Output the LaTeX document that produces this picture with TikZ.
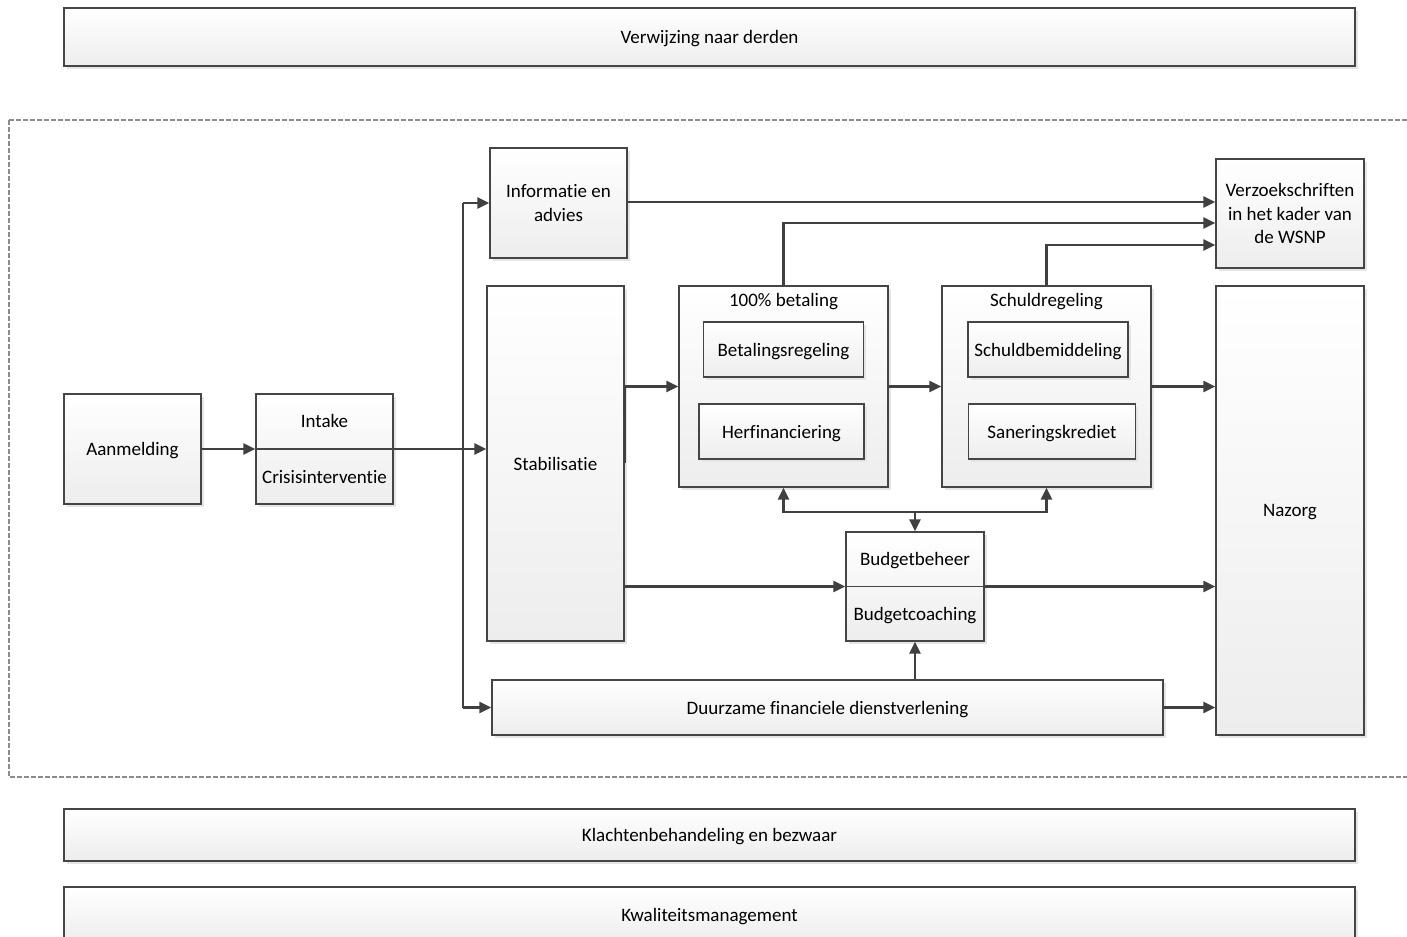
\documentclass[tikz,border=0pt]{standalone}
\usepackage{fontspec}
\setmainfont{Carlito}[Ligatures={NoCommon}]
\usetikzlibrary{arrows.meta,shadows,calc}
\definecolor{edge}{HTML}{454545}
\definecolor{lne}{HTML}{404040}
\definecolor{fillbot}{HTML}{EDEDED}
\definecolor{dashc}{HTML}{8C8C8C}
\begin{document}
\begin{tikzpicture}[x=0.75pt,y=-0.75pt,
  font=\fontsize{14.25}{17.4}\selectfont,
  sz/.style 2 args={minimum width=#1*0.75pt,minimum height=#2*0.75pt},
  box/.style={draw=edge,line width=1.05pt,top color=white,bottom color=fillbot,
    inner sep=0pt,align=center,text depth=0pt,
    drop shadow={shadow xshift=2pt,shadow yshift=-2pt,fill=black!10,opacity=1}},
  lbl/.style={inner sep=0pt,align=center,text depth=0pt},
  con/.style={draw=lne,line width=1.55pt},
  arr/.style={con,-{Triangle[length=9pt,width=8.5pt]}}]

\useasboundingbox (0,0) rectangle (1407,937);
\fill[white] (0,0) rectangle (1407,937);
\clip (0,0) rectangle (1407,937);

% dashed frame
\draw[dashc,line width=0.8pt,dash pattern=on 3.75pt off 1.5pt] (9,120) rectangle (1430,777);

% outer bars
\node[box,sz={1291}{58}] (verw) at (709.5,37) {Verwijzing naar derden};
\node[box,sz={1291}{52}] (klach) at (709.5,835) {Klachtenbehandeling en bezwaar};
\node[box,sz={1291}{56}] (kwal) at (709.5,915) {Kwaliteitsmanagement};

% main flow
\node[box,sz={137}{110}] (aan) at (132.5,449) {Aanmelding};
\node[box,sz={137}{110}] (intk) at (324.5,449) {};
\draw[edge,line width=1.05pt] (intk.west) -- (intk.east);
\node[lbl] (intkt) at (324.5,421) {Intake};
\node[lbl] (crist) at (324.5,477) {Crisisinterventie};

\node[box,sz={137}{355}] (stab) at (555.5,463.5) {Stabilisatie};
\node[box,sz={137}{110}] (info) at (558.5,203) {Informatie en\\advies};

\node[box,sz={209}{201}] (bet) at (783.5,386.5) {};
\node[lbl] (bett) at (783.5,300) {100\% betaling};
\node[box,sz={160}{55}] (betr) at (783.5,349.5) {Betalingsregeling};
\node[box,sz={165}{55}] (herf) at (781.5,431.5) {Herfinanciering};

\node[box,sz={209}{201}] (sch) at (1046.5,386.5) {};
\node[lbl] (scht) at (1046.5,300) {Schuldregeling};
\node[box,sz={160}{55}] (schb) at (1048,349.5) {Schuldbemiddeling};
\node[box,sz={167}{55}] (san) at (1052,431.5) {Saneringskrediet};

\node[box,sz={148}{109}] (verz) at (1290,213.5) {Verzoekschriften\\in het kader van\\de WSNP};
\node[box,sz={148}{449}] (naz) at (1290,510.5) {Nazorg};

\node[box,sz={138}{109}] (bud) at (915,586.5) {};
\draw[edge,line width=1.05pt] (bud.west) -- (bud.east);
\node[lbl] (budb) at (915,559) {Budgetbeheer};
\node[lbl] (budc) at (915,614) {Budgetcoaching};

\node[box,sz={671}{55}] (duur) at (827.5,707.5) {Duurzame financiele dienstverlening};

% connectors
\draw[arr] (aan.east) -- (intk.west);
\coordinate (jt) at (463,203);
\coordinate (jb) at (463,707.5);
\draw[con] (jt) -- (jb);
\draw[arr] (intk.east) -- (intk.east -| stab.west);
\draw[arr] (jt) -- (jt -| info.west);
\draw[arr] (jb) -- (jb -| duur.west);

\path (verz.west) ++(0,-11.5) coordinate (vin1) ++(0,21) coordinate (vin2) ++(0,22) coordinate (vin3);
\draw[arr] (info.east |- vin1) -- (vin1);
\draw[arr] (bet.north) |- (vin2);
\draw[arr] (sch.north) |- (vin3);

\draw[arr] (stab.east) |- (bet.west);
\draw[arr] (bet.east) -- (sch.west);
\draw[arr] (sch.east) -- (sch.east -| naz.west);

\draw[arr] (bud.west -| stab.east) -- (bud.west);
\draw[arr] (bud.east) -- (bud.east -| naz.west);
\draw[arr] (duur.east) -- (duur.east -| naz.west);
\draw[arr] (bud.south |- duur.north) -- (bud.south);

\coordinate (bj) at (915,512);
\draw[arr] (bj) -- (bud.north);
\draw[arr] (bj) -| (bet.south);
\draw[arr] (bj) -| (sch.south);
\end{tikzpicture}
\end{document}
